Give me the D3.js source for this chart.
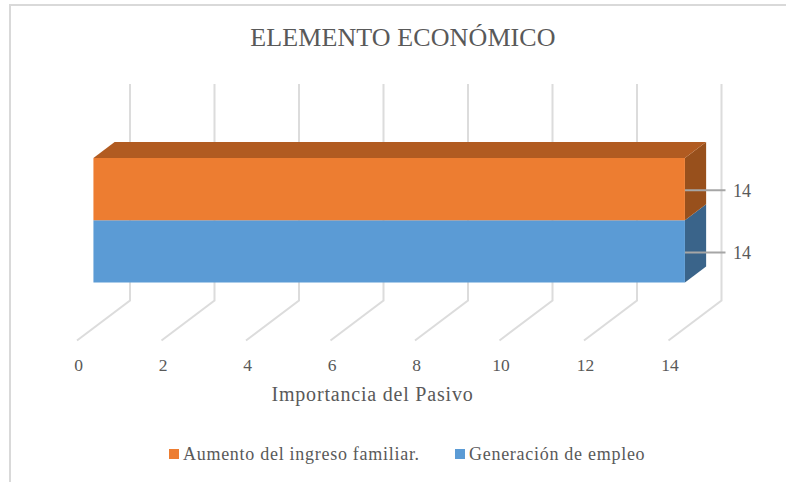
<!DOCTYPE html>
<html>
<head>
<meta charset="utf-8">
<script src="https://d3js.org/d3.v7.min.js"></script>
<style>
	html, body { margin: 0; padding: 0; background: #fff; }
	svg { display: block; }
	text { font-family: "Liberation Serif", serif; fill: #595959; }
</style>
</head>
<body>
<div id="chart"></div>
<script>

var titleText = "ELEMENTO ECONÓMICO";
var axisTitle = "Importancia del Pasivo";
var categories = ["Generación de empleo", "Aumento del ingreso familiar."];
var seriesValues = [14, 14];
var seriesColors = ["#5b9bd5", "#ed7d31"];
var sideColors = ["#3a648a", "#98501c"];
var topColor = "#b15b21";
var tickValues = [0, 2, 4, 6, 8, 10, 12, 14];
var legendOrder = [1, 0];

var width = 786,
	height = 482;

var svg = d3.select("#chart").append("svg")
	.attr("width", width)
	.attr("height", height);

//Chart frame, the picture cuts it off on the right and at the bottom
svg.append("path")
	.attr("d", "M10," + height + "V5H" + width)
	.style("fill", "none")
	.style("stroke", "#d9d9d9")
	.style("stroke-width", 2);

svg.append("text")
	.attr("x", 403)
	.attr("y", 46)
	.attr("text-anchor", "middle")
	.style("font-size", "26px")
	.style("letter-spacing", "0.1px")
	.text(titleText);

///////////////////////////////////////////////////////////////////////////
////////////////////////// Scales for the 3D box //////////////////////////
///////////////////////////////////////////////////////////////////////////

var x = d3.scaleLinear().domain([0, 14]).range([0, 591.5]);

//Depth runs from the floor front (0) to the back wall (1)
var depth = d3.scaleLinear().domain([0, 1]).range([0, 53]);
var lift = d3.scaleLinear().domain([0, 1]).range([0, -40]);

var x0 = 77,
	floorY = 340.5,
	wallTop = 84;

var barStart = 0.31,
	barEnd = 0.71;

var y = d3.scaleBand()
	.domain(categories)
	.range([282.5, 158])
	.padding(0);

//Wall gridlines and the floor diagonals
var grid = svg.append("g")
	.style("fill", "none")
	.style("stroke", "#dcdcdc")
	.style("stroke-width", 2);

grid.selectAll(".grid")
	.data(tickValues)
	.enter().append("path")
	.attr("class", "grid")
	.attr("d", function(d) {
		return "M" + (x0 + x(d)) + "," + floorY +
			"L" + (x0 + x(d) + depth(1)) + "," + (floorY + lift(1)) +
			"V" + wallTop;
	});

///////////////////////////////////////////////////////////////////////////
///////////////////////////////// Bars ////////////////////////////////////
///////////////////////////////////////////////////////////////////////////

var frontX = x0 + depth(barStart),
	dx = depth(barEnd - barStart),
	dy = lift(barEnd - barStart);

var bars = svg.selectAll(".bar")
	.data(categories)
	.enter().append("g")
	.attr("class", "bar");

//Right side face
bars.append("path")
	.attr("d", function(d, i) {
		var xr = frontX + x(seriesValues[i]);
		var y0 = y(d), y1 = y0 + y.bandwidth();
		return "M" + xr + "," + y0 + "l" + dx + "," + dy + "V" + (y1 + dy) + "L" + xr + "," + y1 + "Z";
	})
	.style("fill", function(d, i) { return sideColors[i]; });

//Front face
bars.append("rect")
	.attr("x", frontX)
	.attr("y", function(d) { return y(d); })
	.attr("width", function(d, i) { return x(seriesValues[i]); })
	.attr("height", y.bandwidth())
	.style("fill", function(d, i) { return seriesColors[i]; });

//Top face, only the upper bar shows it
svg.append("path")
	.attr("d", "M" + frontX + "," + y(categories[1]) +
		"l" + dx + "," + dy +
		"H" + (frontX + x(seriesValues[1]) + dx) +
		"l" + (-dx) + "," + (-dy) + "Z")
	.style("fill", topColor);

//Data labels with leader lines
var labels = svg.selectAll(".label")
	.data(categories)
	.enter().append("g")
	.attr("class", "label");

labels.append("line")
	.attr("x1", function(d, i) { return frontX + x(seriesValues[i]); })
	.attr("x2", 725.5)
	.attr("y1", function(d) { return y(d) + y.bandwidth() / 2 + 1; })
	.attr("y2", function(d) { return y(d) + y.bandwidth() / 2 + 1; })
	.style("stroke", "#a6a6a6")
	.style("stroke-width", 2);

labels.append("text")
	.attr("x", 733)
	.attr("y", function(d) { return y(d) + y.bandwidth() / 2 + 8; })
	.style("font-size", "18px")
	.text(function(d, i) { return seriesValues[i]; });

///////////////////////////////////////////////////////////////////////////
///////////////////////////// Axis and legend /////////////////////////////
///////////////////////////////////////////////////////////////////////////

svg.selectAll(".tick-label")
	.data(tickValues)
	.enter().append("text")
	.attr("class", "tick-label")
	.attr("x", function(d) { return x0 + x(d) + 1.5; })
	.attr("y", 371)
	.attr("text-anchor", "middle")
	.style("font-size", "17.5px")
	.text(function(d) { return d; });

svg.append("text")
	.attr("x", 372.5)
	.attr("y", 401)
	.attr("text-anchor", "middle")
	.style("font-size", "20px")
	.style("letter-spacing", "0.8px")
	.text(axisTitle);

var legendX = [169, 455];

var legend = svg.selectAll(".legend")
	.data(legendOrder)
	.enter().append("g")
	.attr("class", "legend")
	.attr("transform", function(d, i) { return "translate(" + legendX[i] + ",449)"; });

legend.append("rect")
	.attr("width", 10)
	.attr("height", 10)
	.style("fill", function(d) { return seriesColors[d]; });

legend.append("text")
	.attr("x", 14)
	.attr("y", 11)
	.style("font-size", "18px")
	.style("letter-spacing", "0.72px")
	.text(function(d) { return categories[d]; });

</script>
</body>
</html>
